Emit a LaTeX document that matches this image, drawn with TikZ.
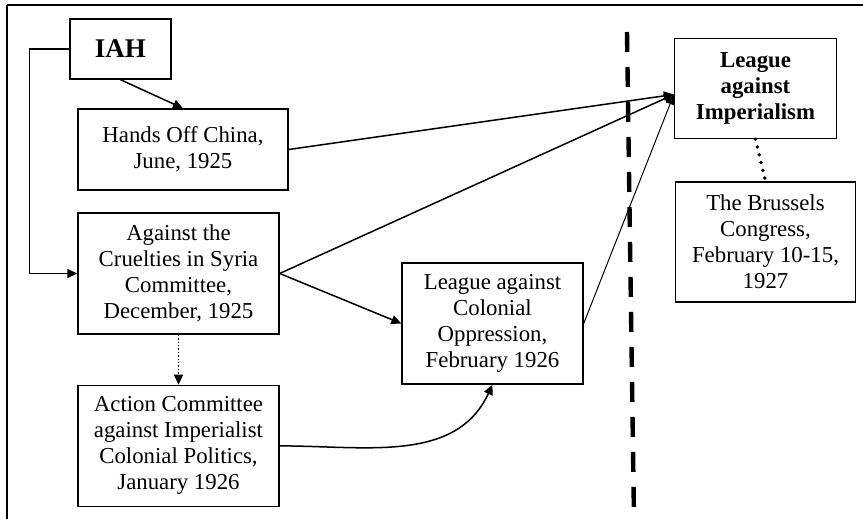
\documentclass[tikz,border=0pt]{standalone}
\usepackage{fontspec}
\setmainfont{Liberation Serif}
\usepackage{tikz}
\usetikzlibrary{positioning}
\usetikzlibrary{arrows.meta, calc}

\begin{document}
\begin{tikzpicture}[
    x=0.5pt, y=-0.5pt,
    box/.style={
        rectangle,
        draw=black,
        line width=0.7pt,
        align=center,
        inner sep=0pt,
        font=\fontsize{11.4pt}{13pt}\selectfont
    },
    link/.style={
        -{Triangle[length=5pt,width=4.5pt]},
        line width=0.75pt
    },
    thinlink/.style={
        link,
        line width=0.5pt
    },
    dottedlink/.style={
        link,
        line width=0.7pt,
        dash pattern=on 0.7pt off 1pt
    },
    dotline/.style={
        line width=1.9pt,
        line cap=round,
        dash pattern=on 0pt off 4pt
    },
    border/.style={
        line width=1pt
    }
]

% frame and dividing line
\useasboundingbox (0,0) rectangle (863,519);
\draw[border] (7,5) -- (863,5);
\draw[border, line width=0.8pt] (7,5) -- (7,519);
\draw[line width=2.2pt, dash pattern=on 10pt off 7.5pt] (627,32) -- (634,519);

\node[box, minimum width=50.5pt, minimum height=30pt,
      font=\fontsize{13.5pt}{15pt}\selectfont\bfseries] (iah) at (120.5,49) {IAH};
\node[box, minimum width=105pt, minimum height=40.5pt] (handsoff) at (183,149.5) {
    Hands Off China,\\
    June, 1925
};
\node[box, minimum width=100.5pt, minimum height=60.5pt] (cruelties) at (178.5,273.5) {
    Against the\\
    Cruelties in Syria\\
    Committee,\\
    December, 1925
};
\node[box, minimum width=100.5pt, minimum height=60.5pt] (action) [below=25pt of cruelties] {
    Action Committee\\
    against Imperialist\\
    Colonial Politics,\\
    January 1926
};
\node[box, minimum width=90.5pt, minimum height=60.5pt] (colonial) at (492.5,323.5) {
    League against\\
    Colonial\\
    Oppression,\\
    February 1926
};
\node[box, minimum width=81pt, minimum height=50pt,
      font=\fontsize{11.4pt}{13pt}\selectfont\bfseries] (league) at (755.5,88.5) {
    League\\
    against\\
    Imperialism
};
\node[box, minimum width=90pt, minimum height=60pt] (brussels) [below=21pt of league, xshift=5pt] {
    The Brussels\\
    Congress,\\
    February 10-15,\\
    1927
};

\coordinate (leaguein) at ($(league.west)+(0,6)$);

\draw[link] (iah.south) -- (handsoff.north);
\draw[link] (iah.west) -- ++(-40,0) |- (cruelties.west);
\draw[link] (handsoff.east) -- (leaguein);
\draw[link] (cruelties.east) -- (leaguein);
\draw[link] (cruelties.east) -- (colonial.west);
\draw[dottedlink] (cruelties.south) -- (action.north);
\draw[link] (action.east) to[out=0, in=-115] (colonial.south);
\draw[thinlink] (colonial.east) -- (leaguein);
\draw[dotline] (league.south) -- (brussels.north);

\end{tikzpicture}
\end{document}
